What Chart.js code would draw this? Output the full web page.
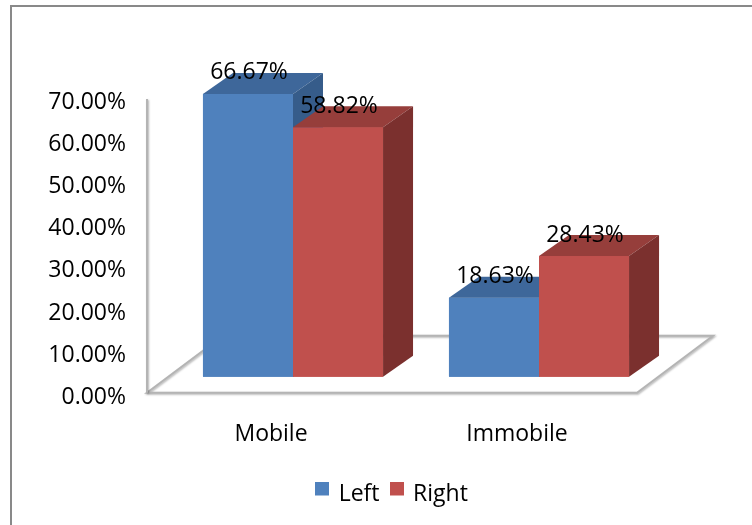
<!DOCTYPE html>
<html>
<head>
<meta charset="utf-8">
<script src="https://cdn.jsdelivr.net/npm/chart.js@4/dist/chart.umd.min.js"></script>
<style>
  html, body { margin: 0; padding: 0; background: #ffffff; }
  #wrap { width: 752px; height: 525px; position: relative; }
</style>
</head>
<body>
<div id="wrap"><canvas id="c" width="752" height="525"></canvas></div>
<script>
// Chart data
const categories = ['Mobile', 'Immobile'];
const seriesNames = ['Left', 'Right'];
const leftValues = [66.67, 18.63];
const rightValues = [58.82, 28.43];
const tickValues = [0, 10, 20, 30, 40, 50, 60, 70];

const FONT = { family: "'Open Sans', 'Liberation Sans', sans-serif", size: 23 };
const pct = v => Number(v).toFixed(2) + '%';

// Depth of the extruded columns and of the floor plate
const BAR_DEPTH = { dx: 30, dy: -21 };
const FLOOR = { dx: 76, dy: -57, drop: 16, insetL: 23, insetR: 25 };

// Legend marker: a square sitting a little above the text's middle line
function legendMark(color) {
  const c = document.createElement('canvas');
  c.width = 14; c.height = 26;
  const g = c.getContext('2d');
  g.fillStyle = color;
  g.fillRect(0, 0, 14, 14);
  return c;
}

const columns3d = {
  id: 'columns3d',
  beforeDraw(chart) {
    const { ctx } = chart;
    ctx.save();
    ctx.fillStyle = '#898989';
    ctx.fillRect(10, 5, 742, 2);
    ctx.fillRect(10, 5, 2, 520);
    ctx.restore();
  },
  beforeDatasetsDraw(chart) {
    const { ctx, chartArea, scales } = chart;
    const yF = scales.yBar.getPixelForValue(0) + FLOOR.drop;
    const xl = chartArea.left - FLOOR.insetL;
    const xr = chartArea.right - FLOOR.insetR;
    ctx.save();
    ctx.strokeStyle = '#b4b4b4';
    ctx.lineWidth = 2;
    ctx.shadowColor = 'rgba(0,0,0,0.30)';
    ctx.shadowBlur = 2;
    ctx.shadowOffsetX = 1;
    ctx.shadowOffsetY = 1;
    ctx.beginPath();
    ctx.moveTo(xl, yF);
    ctx.lineTo(xr, yF);
    ctx.lineTo(xr + FLOOR.dx, yF + FLOOR.dy);
    ctx.lineTo(xl + FLOOR.dx, yF + FLOOR.dy);
    ctx.closePath();
    ctx.stroke();
    ctx.beginPath();
    ctx.moveTo(xl, yF);
    ctx.lineTo(xl, scales.y.getPixelForValue(tickValues[tickValues.length - 1]) - 3);
    ctx.stroke();
    ctx.restore();
  },
  afterDatasetsDraw(chart) {
    const { ctx } = chart;
    const { dx, dy } = BAR_DEPTH;
    const sets = chart.data.datasets;
    ctx.save();
    for (let i = 0; i < categories.length; i++) {
      for (let d = 0; d < sets.length; d++) {
        const el = chart.getDatasetMeta(d).data[i];
        const { x, y, base, width } = el.getProps(['x', 'y', 'base', 'width'], true);
        const l = x - width / 2, r = x + width / 2;
        ctx.fillStyle = sets[d].backgroundColor;
        ctx.fillRect(l, y, width, base - y);
        ctx.fillStyle = sets[d].topColor;
        ctx.beginPath();
        ctx.moveTo(l, y); ctx.lineTo(r, y); ctx.lineTo(r + dx, y + dy); ctx.lineTo(l + dx, y + dy);
        ctx.closePath(); ctx.fill();
        ctx.fillStyle = sets[d].sideColor;
        ctx.beginPath();
        ctx.moveTo(r, y); ctx.lineTo(r + dx, y + dy); ctx.lineTo(r + dx, base + dy); ctx.lineTo(r, base);
        ctx.closePath(); ctx.fill();
      }
    }
    ctx.fillStyle = '#000000';
    ctx.font = `${FONT.size}px ${FONT.family}`;
    ctx.textAlign = 'center';
    ctx.textBaseline = 'middle';
    sets.forEach((ds, d) => {
      chart.getDatasetMeta(d).data.forEach((el, i) => {
        const { x, y } = el.getProps(['x', 'y'], true);
        ctx.fillText(pct(ds.data[i]), x + 1, y + dy);
      });
    });
    ctx.restore();
  }
};

const datasets = [
  { label: seriesNames[0], data: leftValues, backgroundColor: '#4F81BD',
    topColor: '#3E679A', sideColor: '#365C8A', yAxisID: 'yBar', clip: false,
    categoryPercentage: 0.732, barPercentage: 1, borderWidth: 0 },
  { label: seriesNames[1], data: rightValues, backgroundColor: '#C0504D',
    topColor: '#963E3B', sideColor: '#7B302E', yAxisID: 'yBar', clip: false,
    categoryPercentage: 0.732, barPercentage: 1, borderWidth: 0 }
];
const legendMarks = datasets.map(ds => legendMark(ds.backgroundColor));

new Chart(document.getElementById('c'), {
  type: 'bar',
  data: { labels: categories, datasets },
  options: {
    responsive: false,
    devicePixelRatio: 1,
    animation: false,
    layout: { padding: { top: 102, right: 7, left: 40, bottom: 9 } },
    scales: {
      x: {
        offset: true,
        grid: { display: false, drawTicks: false },
        border: { display: false },
        ticks: { font: FONT, color: '#000000', padding: 23, labelOffset: -22, maxRotation: 0 }
      },
      y: {
        position: 'left',
        min: tickValues[0],
        max: tickValues[tickValues.length - 1],
        grid: { display: false, drawTicks: false },
        border: { display: false },
        afterBuildTicks: s => { s.ticks = tickValues.map(v => ({ value: v })); },
        afterFit: s => { s.width = 130; },
        ticks: { font: FONT, color: '#000000', padding: 44, callback: v => pct(v) }
      },
      yBar: {
        display: false,
        min: -4.88,
        max: 64.76
      },
      gutter: {
        position: 'right',
        grid: { display: false, drawTicks: false },
        border: { display: false },
        ticks: { display: false },
        afterFit: s => { s.width = 83; }
      }
    },
    plugins: {
      legend: {
        position: 'bottom',
        labels: {
          font: FONT, color: '#000000', boxWidth: 10, boxHeight: 14, padding: 12,
          usePointStyle: true,
          generateLabels: chart => Chart.defaults.plugins.legend.labels.generateLabels(chart)
            .map((item, i) => ({ ...item, pointStyle: legendMarks[i] }))
        }
      },
      tooltip: { enabled: false }
    }
  },
  plugins: [columns3d]
});
</script>
</body>
</html>
